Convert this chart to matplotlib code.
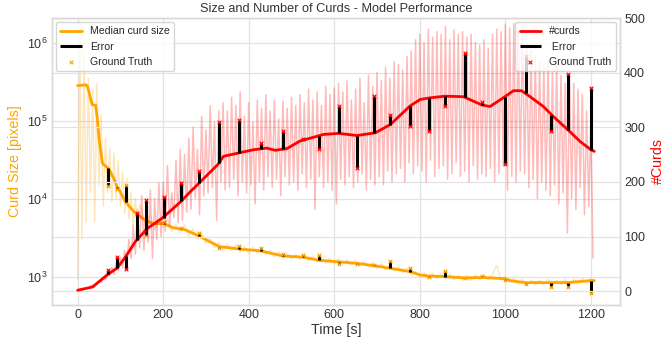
import numpy as np
import matplotlib
matplotlib.use("Agg")
import matplotlib.pyplot as plt

# ---------------- data ----------------
# smoothed median curd size (pixels)
size_smooth_t = [0, 19, 23, 34, 42, 46, 50, 54, 58, 62, 72, 85, 92, 97, 112, 132, 151, 175, 202, 221, 252,
                 284, 331, 378, 428, 480, 526, 565, 610, 653, 694, 731, 777, 801, 821, 859, 906, 946,
                 999, 1015, 1048, 1107, 1146, 1200, 1208]
size_smooth = [281000, 288000, 275000, 160000, 157000, 108000, 60000, 40500, 28700, 26900, 24500, 18000,
               14300, 13000, 9100, 6760, 5620, 4790, 4790, 4270, 3980, 3310, 2430, 2260, 2140, 1840, 1780,
               1620, 1550, 1480, 1380, 1280, 1160, 1050, 1020, 1000, 962, 977, 942, 881, 838, 838, 841,
               889, 891]

# raw median curd size
size_raw_t = list(range(0, 150, 5)) + list(range(150, 1210, 10))
size_raw = [900, 1200000, 3000, 800000, 5000, 350000, 12000, 250000, 5000, 300000,
            15000, 120000, 8000, 60000, 12000, 45000, 9000, 38000, 10000, 30000,
            8000, 22000, 6500, 18000, 5500, 12000, 4500, 10000, 4200, 8500,
            7000, 4300, 6200, 4000, 5600, 4200, 5400, 3800, 4700, 3600,
            4600, 3300, 4100, 3000, 3600, 2650, 3100, 2350, 2750, 2200,
            2650, 2150, 2550, 2050, 2450, 2000, 2400, 1980, 2350, 1900,
            2200, 1780, 2080, 1700, 2000, 1680, 1950, 1650, 1950, 1600,
            1850, 1520, 1760, 1480, 1720, 1450, 1700, 1430, 1650, 1400,
            1620, 1370, 1570, 1330, 1530, 1280, 1460, 1230, 1400, 1170,
            1340, 1120, 1280, 1060, 1180, 980, 1120, 950, 1100, 940,
            1090, 930, 1080, 910, 1050, 900, 1040, 900, 1050, 910,
            1060, 900, 1060, 1400, 890, 1020, 840, 950, 800, 920,
            780, 910, 780, 910, 780, 920, 770, 910, 785, 920,
            780, 930, 800, 950, 820, 960]

# smoothed number of curds
count_smooth_t = [0, 35, 69, 93, 112, 135, 163, 198, 241, 263, 284, 329, 341, 376, 411, 442, 462, 489, 520,
                  575, 610, 653, 696, 731, 777, 801, 824, 859, 902, 945, 964, 999, 1019, 1038, 1058, 1089,
                  1112, 1147, 1175, 1200, 1208]
count_smooth = [2, 8, 30, 43, 63, 91, 115, 134, 164, 182, 198, 233, 247, 253, 259, 262, 258, 261, 275, 287,
                289, 285, 290, 305, 339, 351, 354, 357, 356, 341, 338, 356, 367, 367, 356, 338, 320, 295,
                274, 259, 256]

# raw number of curds (every 5 s)
count_raw_t = list(range(0, 1210, 5))
count_raw = [2, 3, 5, 4, 7, 6, 9, 11, 12, 16,
             18, 16, 25, 21, 33, 28, 44, 31, 52, 38,
             62, 43, 75, 55, 95, 60, 120, 68, 150, 80,
             175, 75, 150, 90, 185, 60, 170, 95, 198, 100,
             200, 110, 230, 120, 180, 135, 240, 125, 260, 130,
             250, 145, 280, 150, 300, 170, 260, 140, 320, 175,
             295, 180, 340, 190, 310, 130, 330, 200, 345, 185,
             330, 190, 355, 205, 340, 175, 365, 200, 320, 180,
             345, 195, 310, 160, 350, 200, 335, 185, 360, 210,
             330, 190, 350, 205, 315, 175, 348, 210, 335, 195,
             355, 200, 340, 185, 360, 215, 345, 190, 370, 205,
             350, 150, 365, 210, 340, 190, 375, 200, 360, 185,
             372, 160, 380, 205, 365, 195, 385, 210, 350, 190,
             370, 200, 390, 215, 345, 185, 395, 205, 375, 195,
             400, 210, 385, 195, 410, 220, 390, 200, 420, 215,
             415, 225, 405, 200, 430, 235, 440, 215, 460, 230,
             470, 220, 455, 200, 480, 240, 465, 210, 475, 225,
             470, 230, 485, 205, 460, 215, 478, 235, 470, 210,
             475, 220, 465, 200, 470, 230, 455, 205, 450, 215,
             460, 210, 445, 225, 470, 200, 480, 215, 475, 230,
             488, 185, 482, 210, 490, 200, 478, 220, 485, 215,
             450, 190, 440, 205, 430, 170, 420, 200, 410, 185,
             420, 175, 400, 195, 415, 160, 395, 180, 380, 107,
             390, 170, 380, 150, 370, 190, 360, 140, 330, 155,
             310, 61]

# ground-truth samples
gt_time = [72, 92, 114, 139, 160, 201, 242, 284, 331, 378, 428, 480, 526, 565, 610, 653, 694, 731, 777,
           821, 859, 906, 946, 999, 1048, 1107, 1146, 1200]
size_pred = [24500, 14300, 9000, 6400, 5300, 4790, 4080, 3310, 2430, 2260, 2140, 1840, 1780, 1620, 1550,
             1480, 1380, 1280, 1160, 1020, 1000, 962, 977, 942, 838, 838, 841, 889]
size_gt = [14550, 13200, 15000, 6300, 3320, 5000, 4150, 3630, 2310, 2500, 2310, 1950, 1900, 1900, 1450,
           1460, 1420, 1600, 1300, 1000, 1180, 950, 1010, 900, 800, 745, 745, 612]
count_pred = [32, 42, 65, 94, 113, 135, 165, 198, 235, 253, 261, 260, 277, 285, 289, 285, 290, 305, 339,
              354, 357, 355, 341, 356, 362, 323, 295, 259]
count_gt = [39, 62, 40, 143, 167, 173, 198, 220, 310, 314, 272, 293, 279, 261, 339, 225, 357, 323, 302,
            293, 339, 436, 347, 233, 430, 294, 398, 372]

# ---------------- plot ----------------
plt.style.use('seaborn-v0_8-whitegrid')
plt.rcParams['font.family'] = ['Liberation Sans', 'DejaVu Sans']
plt.rcParams['axes.edgecolor'] = '#d9d9d9'

fig = plt.figure(figsize=(6.68, 3.39), dpi=100)
ax = fig.add_axes([0.0778, 0.1003, 0.8503, 0.8466])
ax2 = ax.twinx()

ax.plot(size_raw_t, size_raw, color='orange', alpha=0.28, lw=1)
ax.plot(size_smooth_t, size_smooth, color='orange', lw=2, label='Median curd size', zorder=3)
ax.vlines(gt_time, size_pred, size_gt, color='black', lw=2.2, label='Error', zorder=4)
ax.scatter(gt_time, size_gt, marker='x', color='orange', s=7, lw=0.8, label='Ground Truth', zorder=5)
ax.set_yscale('log')
ax.set_ylim(433, 2.07e6)
ax.set_xlim(-60, 1268)

ax2.plot(count_raw_t, count_raw, color='red', alpha=0.27, lw=1.1)
ax2.plot(count_smooth_t, count_smooth, color='red', lw=2, label='#curds', zorder=3)
ax2.vlines(gt_time, count_pred, count_gt, color='black', lw=2.2, label=' Error', zorder=4)
ax2.scatter(gt_time, count_gt, marker='x', color='red', s=7, lw=0.8, label='Ground Truth', zorder=5)
ax2.set_ylim(-25, 500)
ax2.set_yticks([0, 100, 200, 300, 400, 500])

for a in (ax, ax2):
    a.tick_params(labelsize=9, colors='#333333', pad=3)
    a.grid(True, color='#e3e3e3', lw=0.9)
    for s in a.spines.values():
        s.set_color('#d9d9d9')

ax.set_xticks([0, 200, 400, 600, 800, 1000, 1200])
ax.set_xlabel('Time [s]', fontsize=10.3, color='#333333', labelpad=1)
ax.set_ylabel('Curd Size [pixels]', fontsize=10.3, color='orange', labelpad=4)
ax2.set_ylabel('#Curds', fontsize=10.3, color='red', labelpad=4)
ax.set_title('Size and Number of Curds - Model Performance', fontsize=9.2, color='#333333', pad=4)

ax.legend(loc='upper left', frameon=True, fontsize=7.6, borderaxespad=0.4)
ax2.legend(loc='upper right', frameon=True, fontsize=7.6, borderaxespad=0.4)

fig.savefig('out.png', dpi=100)
